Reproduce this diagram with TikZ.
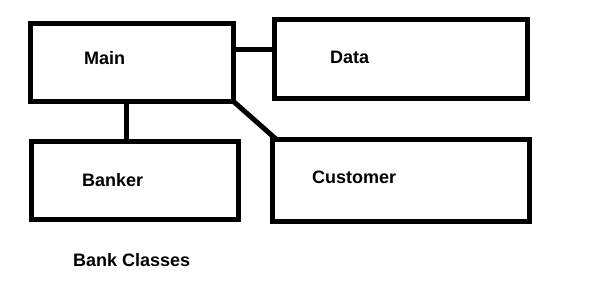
\documentclass[tikz,border=0pt]{standalone}
\usepackage{fontspec}
\setmainfont{Liberation Sans}
\usepackage{tikz}
\usetikzlibrary{positioning}
\tikzset{
  classbox/.style={draw=black, line width=5pt, rectangle, inner sep=0pt,
    outer sep=0pt, anchor=north west},
  classname/.style={inner sep=0pt, anchor=base west,
    font=\bfseries\fontsize{18}{20}\selectfont},
  link/.style={draw=black, line width=5pt}
}

\begin{document}
\begin{tikzpicture}[x=1pt,y=-1pt]
\useasboundingbox (0,0) rectangle (610,288);
% the four class boxes
\node[classbox, minimum width=203pt, minimum height=78pt] (main) at (30.5,23.5) {};
\node[classbox, minimum width=253pt, minimum height=78.5pt] (data) at (274.5,20) {};
\node[classbox, minimum width=207pt, minimum height=78pt] (banker) at (31.5,141.5) {};
\node[classbox, minimum width=256.5pt, minimum height=82pt] (customer) at (272.5,139.5) {};
% names
\node[classname] (mainlbl) at (84,65) {Main};
\node[classname] (datalbl) at (330,64) {Data};
\node[classname] (bankerlbl) at (82,187) {Banker};
\node[classname] (customerlbl) at (312,184) {Customer};
\node[classname] (title) at (73,267) {Bank Classes};
% links between classes
\draw[link] (main.east |- 0,50) -- (data.west |- 0,50);
\draw[link] (main.south -| 126.5,0) -- (banker.north -| 126.5,0);
\draw[link] (main.south east) -- ([xshift=4pt]customer.north west);
\end{tikzpicture}
\end{document}
